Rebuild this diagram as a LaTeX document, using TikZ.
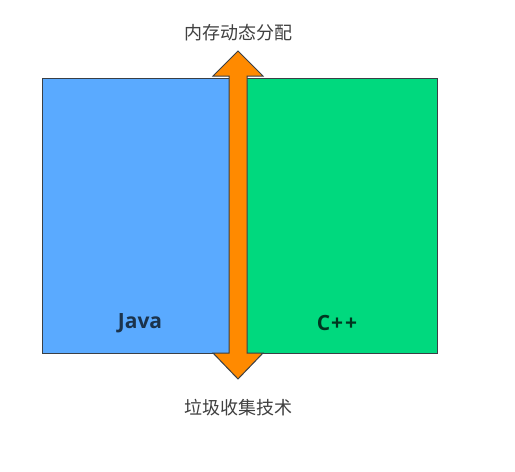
\documentclass[tikz,border=0pt]{standalone}
\usepackage{fontspec}
\setsansfont{Open Sans}
\newfontfamily\cjk{Noto Sans CJK SC}
\usetikzlibrary{positioning}
\definecolor{javablue}{HTML}{5AAAFF}
\definecolor{cppgreen}{HTML}{00D97E}
\definecolor{arroworange}{HTML}{FF8A00}
\definecolor{edgegray}{HTML}{3A3F45}
\definecolor{labelgray}{HTML}{404040}

\begin{document}
\begin{tikzpicture}[x=1pt,y=-1pt]
    \tikzset{
        box/.style={draw=edgegray, line width=1.2pt, anchor=north west, inner sep=0pt},
        boxtext/.style={font=\sffamily\bfseries\fontsize{21}{24}\selectfont},
        cjktext/.style={font=\cjk\fontsize{18}{21}\selectfont, text=labelgray}
    }
    \useasboundingbox (0,0) rectangle (515,472);
    \fill[white] (0,0) rectangle (515,472);

    % the two boxes
    \node[box, fill=javablue, minimum width=188pt, minimum height=275pt] (java) at (42,78) {};
    \node[box, fill=cppgreen, minimum width=191pt, minimum height=275pt] (cpp) at (246,78) {};

    \node[boxtext, text=javablue!30!black] (javalabel) at (140,323) {Java};
    \node[boxtext, text=cppgreen!25!black] (cpplabel) at (337,323) {C\kern1pt+\kern2pt+};

    % double arrow between the boxes
    \draw[draw=edgegray, line width=1pt, fill=arroworange, line join=miter]
        (238,51) -- (263,76) -- (247,76) -- (247,353) -- (263,353) -- (238,379)
        -- (213,353) -- (229,353) -- (229,76) -- (213,76) -- cycle;

    \node[cjktext] (alloc) at (238,33) {内存动态分配};
    \node[cjktext] (gc) at (238,408) {垃圾收集技术};

\end{tikzpicture}
\end{document}
